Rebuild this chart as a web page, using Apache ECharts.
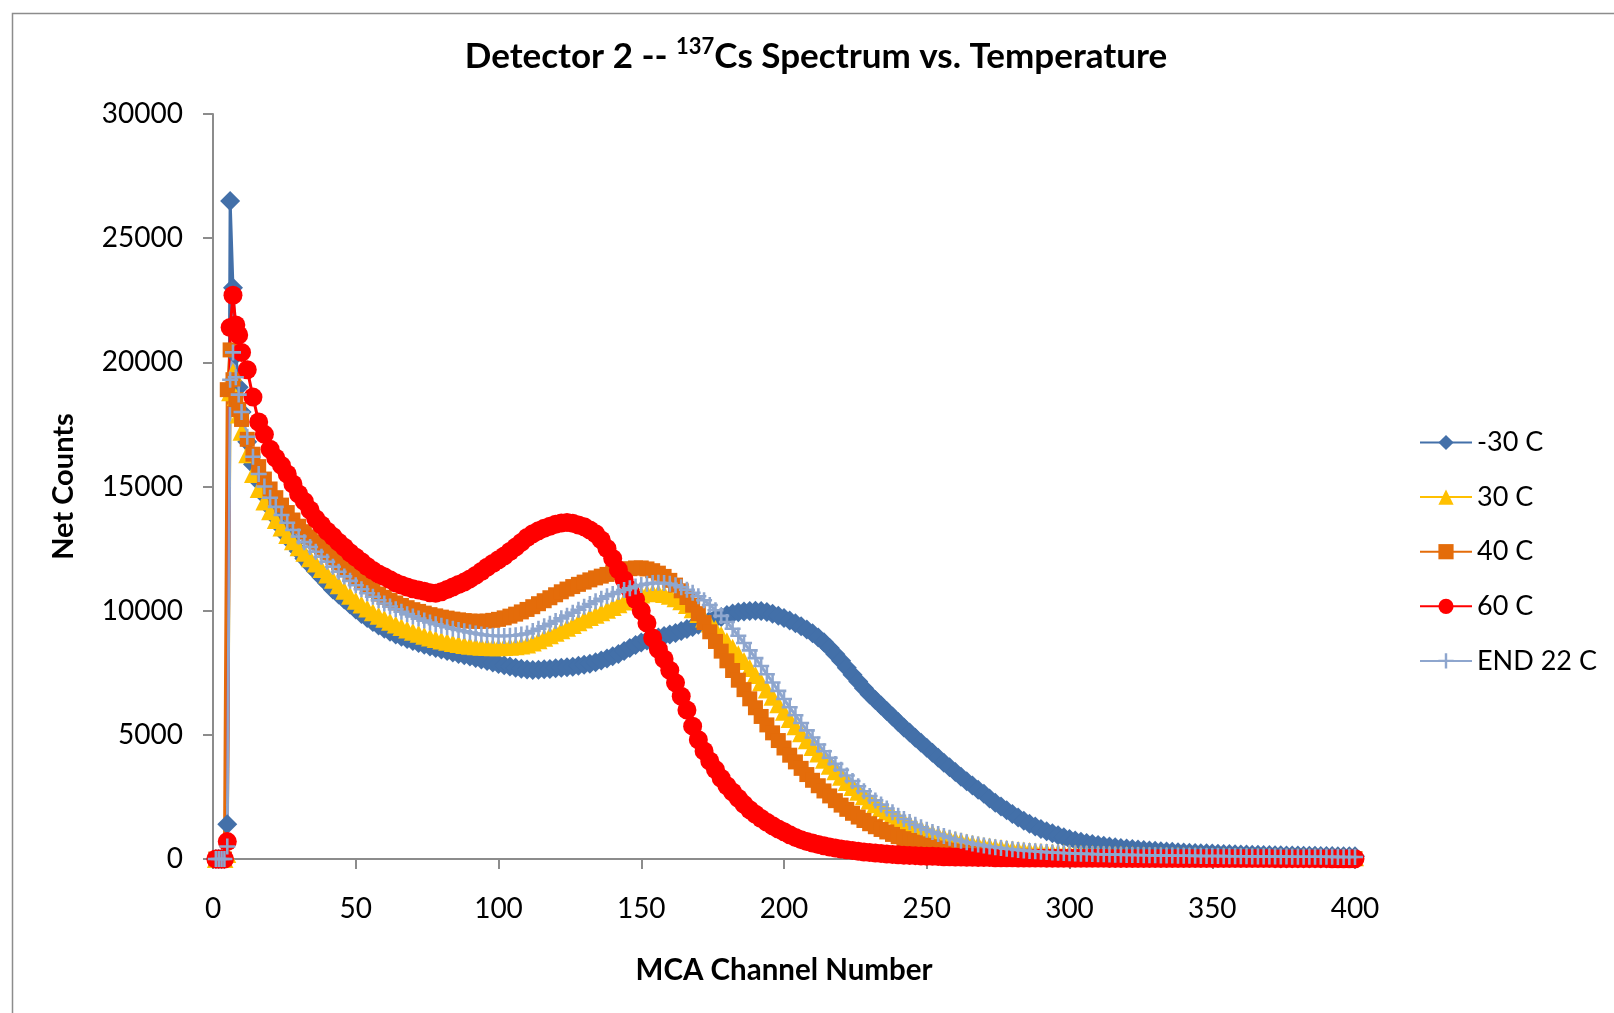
<!DOCTYPE html>
<html>
<head>
<meta charset="utf-8">
<script src="https://cdn.jsdelivr.net/npm/echarts@6/dist/echarts.min.js"></script>
<style>
html,body{margin:0;padding:0;background:#fff;}
#chart{width:1614px;height:1013px;}
</style>
</head>
<body>
<div id="chart"></div>
<script>
// MCA channel numbers (1..10 every channel, then every 2nd channel up to 400)
const channels = [];
for (let c = 1; c <= 10; c++) channels.push(c);
for (let c = 12; c <= 400; c += 2) channels.push(c);

const seriesNames = ['-30 C', '30 C', '40 C', '60 C', 'END 22 C'];
const xTicks = [0, 50, 100, 150, 200, 250, 300, 350, 400];
const yTicks = [0, 5000, 10000, 15000, 20000, 25000, 30000];

const cM30 = [
0,0,0,0,1400,26500,23000,20300,19000,18000,
16800,15900,15200,14650,14150,13750,13350,13000,12700,12400,
12100,11850,11600,11350,11100,10850,10650,10450,10250,10050,
9870,9700,9540,9400,9270,9150,9040,8950,8860,8780,
8700,8630,8560,8500,8440,8380,8320,8260,8200,8150,
8090,8030,7970,7910,7850,7800,7750,7700,7660,7630,
7610,7620,7640,7650,7680,7700,7720,7740,7780,7820,
7860,7920,7990,8070,8160,8260,8380,8500,8620,8720,
8800,8860,8920,8980,9040,9100,9180,9260,9340,9430,
9520,9600,9680,9750,9830,9890,9940,9970,9990,10000,
9990,9950,9880,9800,9700,9600,9490,9370,9240,9090,
8920,8730,8500,8250,7980,7700,7420,7150,6880,6620,
6400,6180,5960,5740,5520,5300,5090,4880,4680,4480,
4280,4080,3880,3690,3500,3310,3130,2960,2790,2630,
2440,2270,2110,1960,1810,1670,1540,1420,1310,1210,
1120,1035,955,880,810,750,695,645,600,565,
530,500,470,445,420,400,380,360,345,330,
315,300,288,276,265,255,245,236,228,220,
212,205,198,191,185,179,173,168,163,158,
153,149,145,141,137,133,130,127,124,121,
118,115,112,110,108];

const c30 = [
0,0,0,0,200,18800,19600,18600,17900,17200,
16300,15500,14900,14400,14000,13650,13350,13050,12800,12550,
12330,12110,11900,11680,11460,11240,11020,10800,10600,10400,
10250,10090,9940,9800,9670,9550,9440,9340,9240,9150,
9070,8990,8920,8860,8800,8750,8700,8660,8620,8590,
8570,8550,8540,8530,8530,8540,8550,8570,8600,8640,
8720,8810,8910,9010,9110,9210,9310,9420,9530,9640,
9740,9840,9940,10040,10150,10260,10370,10480,10580,10650,
10700,10720,10710,10670,10600,10500,10380,10230,10060,9870,
9680,9480,9260,9020,8770,8510,8240,7970,7690,7410,
7120,6830,6530,6230,5930,5640,5350,5060,4780,4510,
4250,4000,3760,3530,3310,3100,2900,2710,2530,2360,
2200,2050,1910,1780,1650,1530,1420,1310,1210,1120,
1040,960,890,825,765,710,660,615,575,535,
500,468,438,410,385,362,341,322,305,289,
275,262,250,239,229,220,212,204,197,190,
184,178,172,167,162,157,153,149,145,141,
138,134,131,128,125,122,119,116,113,111,
108,106,104,101,99,97,95,93,91,89,
87,85,84,82,80,79,77,76,74,73,
72,70,69,68,67];

const c40 = [
0,0,0,0,18900,20500,19300,18500,18100,17700,
16900,16300,15800,15300,14900,14550,14250,13950,13650,13400,
13180,12970,12770,12560,12350,12140,11930,11720,11520,11330,
11150,10980,10820,10670,10540,10420,10310,10210,10120,10040,
9970,9900,9840,9790,9740,9700,9660,9630,9600,9580,
9570,9570,9580,9610,9650,9710,9780,9860,9950,10050,
10160,10280,10400,10520,10640,10760,10870,10970,11060,11150,
11240,11320,11390,11460,11530,11590,11640,11690,11720,11720,
11680,11610,11510,11380,11220,11030,10800,10530,10220,9880,
9520,9150,8760,8370,7980,7590,7200,6820,6450,6090,
5740,5400,5080,4770,4470,4180,3910,3650,3400,3170,
2950,2740,2540,2350,2170,2000,1840,1690,1550,1420,
1300,1190,1090,990,900,820,745,675,610,550,
495,445,400,360,325,293,265,240,218,198,
181,166,152,140,129,119,110,102,95,89,
83,78,73,69,65,62,59,56,53,51,
49,47,45,43,41,40,38,37,36,35,
34,33,32,31,30,29,28,28,27,26,
26,25,25,24,24,23,23,22,22,21,
21,21,20,20,20,19,19,19,18,18,
18,18,17,17,17];

const c60 = [
0,0,0,0,700,21400,22700,21500,21100,20400,
19700,18600,17600,17100,16500,16150,15850,15500,15100,14700,
14400,14050,13700,13450,13200,12990,12760,12550,12330,12150,
11970,11780,11620,11480,11370,11250,11120,11030,10950,10880,
10830,10780,10720,10700,10760,10850,10950,11050,11150,11280,
11420,11580,11750,11900,12050,12200,12380,12560,12750,12950,
13100,13220,13320,13400,13480,13530,13550,13520,13450,13380,
13250,13100,12850,12500,12100,11650,11250,10850,10450,10000,
9500,8900,8450,8050,7600,7100,6550,6000,5350,4800,
4350,3950,3600,3250,2950,2700,2450,2200,1980,1800,
1630,1480,1340,1210,1100,980,870,780,700,640,
580,530,480,440,400,370,340,310,285,260,
240,220,200,185,170,155,145,135,125,115,
108,100,94,88,82,77,72,68,64,60,
57,54,51,48,46,44,42,40,38,37,
35,34,33,32,31,30,29,28,27,27,
26,25,25,24,24,23,23,22,22,21,
21,21,20,20,20,19,19,19,18,18,
18,18,17,17,17,17,16,16,16,16,
15,15,15,15,15,14,14,14,14,14,
13,13,13,13,13];

const cEnd22 = [
0,0,0,0,500,19300,20400,19400,18700,18000,
17000,16200,15500,15000,14550,14180,13850,13540,13250,12990,
12760,12560,12370,12170,11970,11770,11570,11380,11200,11020,
10860,10700,10560,10420,10290,10170,10060,9960,9860,9770,
9680,9600,9520,9450,9390,9330,9270,9220,9170,9120,
9080,9040,9010,8990,8980,8980,8990,9010,9040,9080,
9180,9270,9370,9470,9580,9690,9800,9920,10040,10160,
10270,10380,10480,10580,10670,10750,10830,10900,10970,11030,
11080,11110,11120,11110,11080,11020,10940,10840,10720,10580,
10420,10230,10020,9790,9540,9270,8990,8700,8400,8090,
7770,7440,7110,6770,6440,6110,5790,5480,5180,4890,
4610,4340,4080,3830,3590,3360,3140,2930,2730,2540,
2360,2190,2030,1880,1740,1610,1490,1380,1280,1180,
1090,1005,925,855,790,730,675,625,580,540,
505,472,442,415,390,367,346,327,309,293,
278,265,253,242,232,223,215,207,200,193,
187,181,176,171,166,162,158,154,150,147,
143,140,137,134,131,129,126,124,121,119,
117,115,113,111,109,107,105,104,102,100,
99,97,96,94,93,92,90,89,88,87,
86,85,84,83,82];

const values = [cM30, c30, c40, c60, cEnd22];
const colors = ['#4370A9', '#FFC000', '#E46C0A', '#FF0000', '#8EA6CE'];
const symbols = ['diamond', 'triangle', 'rect', 'circle',
  'path://M0,4.2H10V5.8H0Z M4.2,0H5.8V10H4.2Z'];
const symbolSizes = [20, 18, 15, 19, 16];

const FONT = 'Lato, "Liberation Sans", sans-serif';

const series = seriesNames.map((name, i) => ({
  name: name,
  type: 'line',
  data: channels.map((c, k) => [c, values[i][k]]),
  symbol: symbols[i],
  symbolSize: symbolSizes[i],
  showAllSymbol: true,
  clip: false,
  lineStyle: { color: colors[i], width: 3 },
  itemStyle: { color: colors[i], borderWidth: 0 },
  emphasis: { disabled: true },
  animation: false
}));

const chart = echarts.init(document.getElementById('chart'), null, { renderer: 'canvas' });
chart.setOption({
  animation: false,
  backgroundColor: '#ffffff',
  textStyle: { fontFamily: FONT },
  graphic: [{
    type: 'rect',
    left: 10, top: 11,
    shape: { x: 0, y: 0, width: 1700, height: 1100 },
    style: { fill: 'none', stroke: '#8c8c8c', lineWidth: 1.5 },
    silent: true
  }],
  title: {
    text: 'Detector 2 -- {sup|137}Cs Spectrum vs. Temperature',
    left: 811,
    top: 31,
    textAlign: 'center',
    textStyle: {
      fontFamily: FONT, fontSize: 35, fontWeight: 'bold', color: '#000',
      lineHeight: 42,
      rich: {
        sup: { fontFamily: FONT, fontSize: 22, fontWeight: 'bold', color: '#000',
               lineHeight: 42, verticalAlign: 'top', padding: [0, 0, 15, 0] }
      }
    }
  },
  legend: {
    orient: 'vertical',
    left: 1414,
    top: 424,
    itemWidth: 52,
    itemHeight: 19,
    itemGap: 27.6,
    data: seriesNames,
    textStyle: { fontFamily: FONT, fontSize: 27, color: '#000', lineHeight: 26 }
  },
  grid: { left: 213, right: 259, top: 114, bottom: 154 },
  xAxis: {
    type: 'value',
    min: xTicks[0], max: xTicks[xTicks.length - 1], interval: 50,
    name: 'MCA Channel Number',
    nameLocation: 'middle',
    nameGap: 96,
    nameTextStyle: { fontFamily: FONT, fontSize: 29.5, fontWeight: 'bold', color: '#000' },
    axisLine: { lineStyle: { color: '#8c8c8c', width: 2 } },
    axisTick: { length: 10, lineStyle: { color: '#8c8c8c', width: 2 } },
    axisLabel: { fontFamily: FONT, fontSize: 28, color: '#000', margin: 36,
                 formatter: v => String(v) },
    splitLine: { show: false }
  },
  yAxis: {
    type: 'value',
    min: yTicks[0], max: yTicks[yTicks.length - 1], interval: 5000,
    name: 'Net Counts',
    nameLocation: 'middle',
    nameGap: 135,
    nameTextStyle: { fontFamily: FONT, fontSize: 29, fontWeight: 'bold', color: '#000' },
    axisLine: { show: true, lineStyle: { color: '#8c8c8c', width: 2 } },
    axisTick: { show: true, length: 10, lineStyle: { color: '#8c8c8c', width: 2 } },
    axisLabel: { fontFamily: FONT, fontSize: 28, color: '#000', margin: 30,
                 formatter: v => String(v) },
    splitLine: { show: false }
  },
  series: series
});
</script>
</body>
</html>
